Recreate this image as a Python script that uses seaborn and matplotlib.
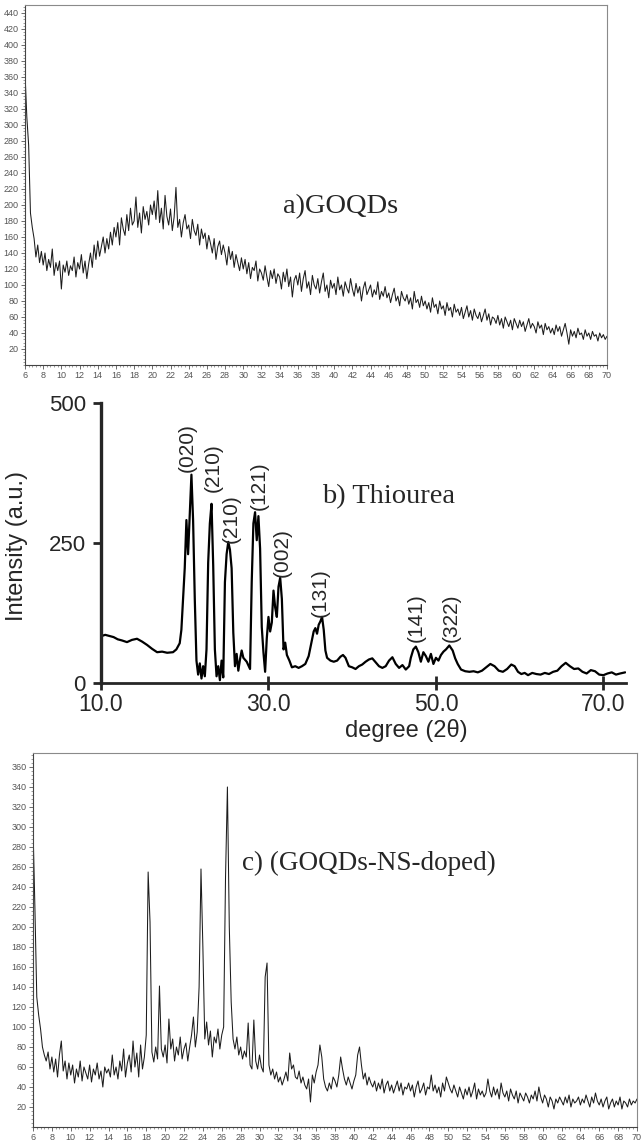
import seaborn as sns
import matplotlib.pyplot as plt
from matplotlib.ticker import MultipleLocator
import numpy as np
import pandas as pd

# scan grid of the two GOQDs patterns (regular step of 0.2 deg 2theta)
scan_2theta = np.round(np.arange(6.0, 70.01, 0.2), 1)

# a) GOQDs, counts (one row = 2 deg)
goqds_counts = [
    365, 310, 275, 190, 172, 158, 135, 150, 128, 142,
    125, 140, 118, 132, 122, 145, 112, 128, 118, 130,
    95, 125, 116, 130, 112, 124, 118, 135, 110, 128,
    120, 138, 115, 130, 108, 126, 140, 122, 150, 132,
    155, 136, 148, 160, 140, 158, 145, 166, 150, 172,
    160, 178, 150, 184, 170, 162, 188, 168, 196, 175,
    180, 210, 172, 190, 165, 198, 182, 192, 175, 200,
    188, 205, 182, 218, 178, 196, 170, 212, 186, 175,
    195, 168, 185, 222, 172, 182, 160, 178, 188, 170,
    175, 158, 182, 168, 162, 176, 150, 170, 158, 165,
    145, 162, 152, 140, 158, 132, 148, 155, 138, 150,
    140, 125, 148, 132, 142, 122, 138, 128, 118, 134,
    120, 132, 114, 128, 108, 122, 118, 130, 105, 120,
    115, 106, 124, 110, 98, 118, 108, 120, 102, 114,
    110, 95, 116, 104, 120, 98, 110, 85, 106, 112,
    100, 115, 92, 108, 118, 96, 104, 88, 112, 100,
    95, 108, 90, 104, 115, 92, 100, 84, 106, 96,
    102, 88, 110, 94, 100, 86, 104, 96, 90, 108,
    95, 86, 102, 90, 98, 80, 96, 104, 88, 94,
    100, 85, 94, 88, 104, 82, 92, 86, 98, 84,
    90, 78, 88, 96, 80, 86, 74, 92, 84, 80,
    88, 76, 84, 70, 92, 78, 82, 72, 86, 74,
    80, 70, 78, 66, 84, 72, 76, 64, 80, 70,
    74, 62, 78, 68, 72, 60, 76, 66, 70, 62,
    72, 58, 66, 74, 60, 68, 56, 70, 62, 58,
    66, 54, 62, 70, 56, 64, 50, 60, 58, 52,
    62, 50, 58, 46, 60, 54, 48, 56, 44, 58,
    52, 46, 56, 48, 54, 42, 50, 58, 46, 52,
    48, 40, 54, 46, 50, 38, 52, 44, 48, 40,
    46, 38, 50, 42, 48, 36, 44, 52, 40, 26,
    44, 36, 42, 34, 46, 38, 40, 32, 44, 36,
    40, 32, 42, 36, 38, 30, 40, 34, 38, 32,
    36,
]

# c) GOQDs-NS-doped
doped_counts = [
    300, 220, 130, 112, 98, 80, 72, 66, 75, 58,
    70, 55, 68, 50, 72, 86, 56, 66, 48, 64,
    52, 62, 44, 58, 50, 66, 46, 60, 54, 48,
    62, 45, 58, 52, 64, 48, 56, 40, 60, 54,
    58, 50, 72, 52, 60, 48, 66, 56, 78, 50,
    64, 72, 55, 86, 60, 74, 50, 82, 58, 70,
    92, 255, 205, 75, 65, 80, 68, 141, 78, 70,
    82, 64, 108, 78, 88, 66, 80, 72, 90, 68,
    78, 84, 66, 80, 92, 110, 80, 95, 140, 258,
    180, 88, 105, 82, 96, 70, 90, 84, 98, 78,
    92, 100, 250, 340, 200, 125, 88, 78, 90, 72,
    80, 68, 76, 70, 104, 62, 58, 107, 66, 58,
    72, 60, 55, 150, 164, 62, 52, 58, 48, 55,
    45, 50, 42, 48, 55, 46, 74, 58, 62, 50,
    48, 56, 44, 50, 42, 38, 48, 25, 52, 44,
    55, 62, 82, 70, 48, 40, 36, 44, 38, 50,
    46, 40, 52, 70, 58, 48, 42, 50, 44, 38,
    46, 52, 72, 80, 62, 48, 54, 42, 50, 44,
    40, 46, 36, 44, 38, 48, 34, 42, 46, 36,
    42, 34, 40, 46, 36, 44, 32, 40, 38, 44,
    36, 42, 30, 40, 46, 34, 38, 44, 32, 40,
    38, 52, 36, 42, 34, 40, 30, 44, 36, 50,
    44, 38, 34, 42, 36, 30, 40, 34, 28, 38,
    32, 40, 30, 36, 44, 28, 38, 32, 36, 30,
    34, 48, 36, 30, 40, 32, 38, 28, 44, 34,
    30, 36, 26, 38, 32, 28, 36, 24, 34, 30,
    26, 34, 30, 24, 32, 28, 36, 26, 40, 30,
    24, 32, 28, 20, 30, 26, 18, 28, 24, 30,
    26, 22, 30, 24, 32, 20, 28, 24, 26, 30,
    22, 28, 24, 32, 26, 20, 30, 24, 34, 26,
    22, 28, 20, 26, 30, 18, 24, 28, 20, 26,
    22, 30, 18, 26, 24, 20, 28, 22, 26, 24,
    28,
]

# b) Thiourea
thiourea_2theta = [
    10.0, 10.1, 10.5, 11.0, 11.5, 12.0, 12.5, 13.1, 13.7, 14.3, 14.9, 15.5,
    16.1, 16.7, 17.3, 17.9, 18.6, 19.0, 19.4, 19.6, 19.8, 20.0, 20.2, 20.4,
    20.6, 20.8, 21.0, 21.2, 21.4, 21.6, 21.8, 22.0, 22.2, 22.4, 22.6, 22.8,
    23.0, 23.2, 23.4, 23.6, 23.8, 24.0, 24.2, 24.4, 24.6, 24.8, 25.0, 25.2,
    25.4, 25.6, 25.8, 26.0, 26.2, 26.4, 26.6, 26.8, 27.0, 27.4, 27.8, 28.0,
    28.2, 28.4, 28.6, 28.8, 29.0, 29.2, 29.4, 29.6, 29.8, 30.0, 30.2, 30.4,
    30.6, 30.8, 31.0, 31.2, 31.4, 31.6, 31.8, 32.0, 32.2, 32.5, 32.8, 33.2,
    33.6, 34.0, 34.4, 34.8, 35.1, 35.4, 35.6, 35.8, 36.0, 36.2, 36.4, 36.6,
    36.8, 37.0, 37.4, 37.8, 38.2, 38.6, 38.9, 39.2, 39.6, 40.0, 40.4, 40.8,
    41.2, 41.6, 42.0, 42.4, 42.8, 43.2, 43.6, 44.0, 44.4, 44.8, 45.2, 45.6,
    46.0, 46.4, 46.8, 47.0, 47.3, 47.6, 47.9, 48.2, 48.5, 48.8, 49.1, 49.4,
    49.7, 50.0, 50.3, 50.6, 50.9, 51.2, 51.6, 52.0, 52.3, 52.6, 53.0, 53.5,
    54.0, 54.5, 55.0, 55.5, 56.0, 56.5, 57.0, 57.5, 58.0, 58.5, 59.0, 59.4,
    59.8, 60.2, 60.6, 61.0, 61.5, 62.0, 62.5, 63.0, 63.5, 64.0, 64.5, 65.0,
    65.5, 66.0, 66.5, 67.0, 67.5, 68.0, 68.5, 69.0, 69.5, 70.0, 70.5, 71.0,
    71.5, 72.0, 72.6,
]
thiourea_counts = [
    520, 84, 86, 84, 82, 78, 76, 73, 77, 79, 74, 68,
    61, 55, 56, 54, 55, 60, 71, 95, 150, 205, 291, 230,
    300, 372, 290, 150, 40, 15, 35, 8, 30, 12, 60, 215,
    285, 320, 210, 60, 12, 30, 5, 40, 10, 180, 230, 252,
    238, 205, 90, 30, 52, 22, 42, 58, 45, 38, 25, 180,
    285, 305, 255, 298, 240, 100, 55, 20, 80, 118, 92, 108,
    165, 135, 118, 172, 188, 150, 60, 72, 50, 40, 28, 30,
    27, 30, 34, 48, 70, 92, 98, 88, 104, 110, 118, 95,
    58, 45, 40, 38, 40, 47, 50, 45, 30, 28, 25, 30,
    33, 38, 42, 44, 37, 30, 27, 30, 40, 46, 34, 27,
    32, 24, 30, 45, 60, 65, 55, 38, 55, 48, 38, 52,
    34, 45, 40, 50, 56, 60, 67, 58, 44, 34, 24, 21,
    20, 21, 19, 22, 28, 34, 30, 22, 20, 25, 33, 30,
    20, 16, 18, 14, 18, 16, 15, 18, 16, 20, 22, 30,
    36, 30, 25, 26, 20, 17, 23, 21, 15, 14, 17, 19,
    15, 17, 19,
]

hkl_labels = ['(020)', '(210)', '(210)', '(121)', '(002)', '(131)', '(141)', '(322)']
# where each index label sits (bottom of the rotated text)
hkl_x = [20.3, 23.4, 25.5, 28.9, 31.7, 36.2, 47.6, 51.8]
hkl_y = [377, 341, 250, 309, 189, 118, 73, 73]

sns.set_style('ticks')
plt.rcParams['font.family'] = ['Liberation Sans', 'DejaVu Sans']

W, H = 644, 1141
fig = plt.figure(figsize=(W / 100, H / 100), dpi=100)


def axes_px(left, top, right, bottom):
    return fig.add_axes([left / W, 1 - bottom / H, (right - left) / W, (bottom - top) / H])


ax_a = axes_px(25, 5, 607, 365)
ax_b = axes_px(101, 403, 626, 683)
ax_c = axes_px(33, 753, 637, 1127)


def style_scan(ax, ymax, ytop_label):
    ax.set_xlim(6, 70)
    ax.set_ylim(0, ymax)
    ax.set_xticks(range(6, 71, 2))
    ax.set_yticks(range(20, ytop_label + 1, 20))
    ax.xaxis.set_minor_locator(MultipleLocator(0.4))
    ax.yaxis.set_minor_locator(MultipleLocator(4))
    ax.tick_params(which='major', direction='out', length=3, width=0.6,
                   color='#555', labelsize=6.5, labelcolor='#555', pad=1.5)
    ax.tick_params(which='minor', direction='out', length=1.5, width=0.5, color='#777')
    for side in ['top', 'right']:
        ax.spines[side].set_visible(True)
        ax.spines[side].set_color('#8a8a8a')
        ax.spines[side].set_linewidth(0.8)
    for side in ['left', 'bottom']:
        ax.spines[side].set_color('#444')
        ax.spines[side].set_linewidth(0.8)
    ax.set_xlabel('')
    ax.set_ylabel('')


# a) GOQDs
df_a = pd.DataFrame({'two_theta': scan_2theta, 'counts': goqds_counts})
sns.lineplot(data=df_a, x='two_theta', y='counts', ax=ax_a, color='#1c1c1c',
             lw=0.75, errorbar=None)
style_scan(ax_a, 450, 440)

# c) GOQDs-NS-doped
df_c = pd.DataFrame({'two_theta': scan_2theta, 'counts': doped_counts})
sns.lineplot(data=df_c, x='two_theta', y='counts', ax=ax_c, color='#1c1c1c',
             lw=0.75, errorbar=None)
style_scan(ax_c, 374, 360)

# b) Thiourea
df_b = pd.DataFrame({'two_theta': thiourea_2theta, 'counts': thiourea_counts})
sns.lineplot(data=df_b, x='two_theta', y='counts', ax=ax_b, color='black',
             lw=1.6, errorbar=None)
ax_b.set_xlim(10, 72.7)
ax_b.set_ylim(0, 500)
ax_b.spines['top'].set_visible(False)
ax_b.spines['right'].set_visible(False)
ax_b.spines['left'].set_linewidth(2.4)
ax_b.spines['bottom'].set_linewidth(2.0)
ax_b.set_xticks([10, 30, 50, 70])
ax_b.set_xticklabels(['10.0', '30.0', '50.0', '70.0'])
ax_b.set_yticks([0, 250, 500])
ax_b.tick_params(axis='x', direction='inout', length=10, width=2, labelsize=16.5, pad=2)
ax_b.tick_params(axis='y', direction='out', length=6, width=2, labelsize=16, pad=5)
ax_b.set_xlabel('')
ax_b.set_ylabel('')

for lab, x, y in zip(hkl_labels, hkl_x, hkl_y):
    ax_b.text(x, y, lab, rotation=90, ha='center', va='bottom', fontsize=15)

fig.text(17.5 / W, 1 - 546 / H, 'Intensity (a.u.)', rotation=90,
         ha='center', va='center', fontsize=17)
fig.text(406 / W, 1 - 737 / H, 'degree (2θ)', ha='center', va='baseline', fontsize=17)

# panel titles
serif = ['Liberation Serif', 'DejaVu Serif']
fig.text(283 / W, 1 - 213 / H, 'a)GOQDs', family=serif, fontsize=20.5, va='baseline')
fig.text(322 / W, 1 - 503 / H, 'b) Thiourea', family=serif, fontsize=20.5, va='baseline')
fig.text(242 / W, 1 - 870 / H, 'c) (GOQDs-NS-doped)', family=serif, fontsize=19.5,
         va='baseline')

fig.savefig('out.png', dpi=100)
